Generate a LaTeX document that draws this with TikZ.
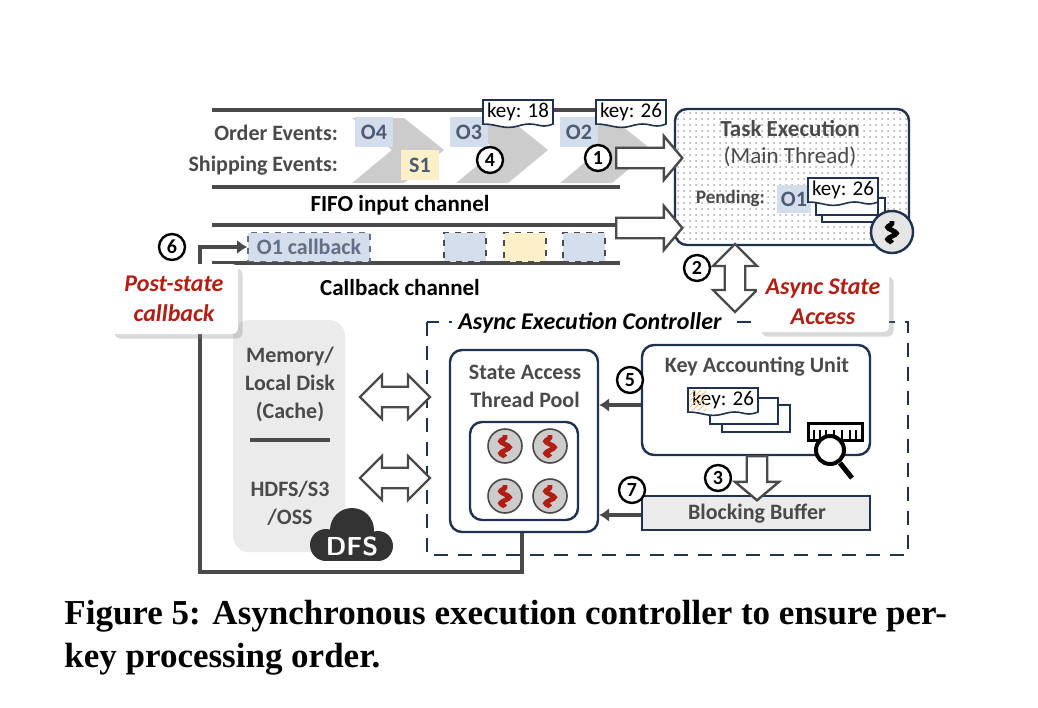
\documentclass[tikz,border=0pt]{standalone}
\usepackage{fontspec}
\setmainfont{Liberation Serif}
\newfontfamily\carlito{Carlito}
\usetikzlibrary{shapes.arrows,decorations.pathmorphing,patterns,calc,shadows,arrows.meta}
\definecolor{navy}{HTML}{1F3250}
\definecolor{ink}{HTML}{4A4A4A}
\definecolor{evblue}{HTML}{D3DDEC}
\definecolor{evyel}{HTML}{FDF0C8}
\definecolor{darkred}{HTML}{B01E14}
\tikzset{
  lbl/.style={font=\carlito\bfseries\fontsize{11}{13}\selectfont, text=ink},
  blk/.style={font=\carlito\bfseries\fontsize{11.5}{13}\selectfont, text=black},
  ev/.style={lbl, fill=evblue, minimum width=19pt, minimum height=15pt, inner sep=0pt, text=navy!80},
  stepno/.style={circle, draw=black, very thick, fill=white, minimum size=13pt, inner sep=0pt,
    font=\carlito\bfseries\fontsize{10}{12}\selectfont},
  cb/.style={draw=navy!70, dashed, thick, minimum width=21pt, minimum height=14.5pt, inner sep=0pt},
  hollow/.style={single arrow, draw=ink, very thick, fill=white, minimum width=22pt,
    single arrow head extend=3pt, single arrow tip angle=100, inner sep=2pt},
  dhollow/.style={double arrow, draw=ink, very thick, fill=white, minimum width=22pt,
    double arrow head extend=3pt, inner sep=2pt},
  box/.style={draw=navy, very thick, rounded corners=6pt, fill=white},
  redt/.style={font=\carlito\bfseries\itshape\fontsize{12}{15}\selectfont, text=darkred, align=center},
  garrow/.style={draw=ink, line width=2pt, -{Latex[length=5pt,width=7pt]}},
}
% tag with wavy bottom
\newcommand{\keytag}[4]{% name, x, y, text
  \draw[navy, thick, fill=white] (#2,#3) -- ++(70,0) -- ++(0,24)
    .. controls ++(-15,6) and ++(20,-6) .. ++(-35,2)
    .. controls ++(-15,4) and ++(15,0) .. ++(-35,-2) -- cycle;
  \node[font=\carlito\fontsize{10.5}{12}\selectfont, inner sep=0pt] (#1) at (#2+35,#3+12) {#4};}
\newcommand{\squig}[3]{% x, y, colour
  \draw[#3, line width=2.4pt, decorate, decoration={snake, amplitude=2.2pt, segment length=6pt}]
    (#1,#2+11) -- (#1,#2-11);}
\begin{document}
\begin{tikzpicture}[x=0.5pt, y=-0.5pt]
\useasboundingbox (0,0) rectangle (1038,707);

% input channel
\foreach \cx in {352,456,560}
  \fill[black!20] (\cx,118) -- ++(52,0) -- ++(40,32) -- ++(-40,33) -- ++(-52,0) -- ++(40,-33) -- cycle;
\draw[ink, line width=2pt] (212,110) -- (620,110);
\draw[ink, line width=2pt] (212,187) -- (620,187);
\draw[ink, line width=2pt] (212,225) -- (620,225);
\draw[ink, line width=2pt] (212,263) -- (620,263);
\node[lbl, anchor=east] (ordlbl) at (345,133) {Order Events:};
\node[lbl, anchor=east] (shiplbl) at (345,166) {Shipping Events:};
\node[ev] (o4) at (374,132) {O4};
\node[ev, fill=evyel] (s1) at (420,165) {S1};
\node[ev] (o3) at (469,132) {O3};
\node[ev] (o2) at (579,132) {O2};
\keytag{k18}{483}{100}{key: 18}
\keytag{k26}{596}{100}{key: 26}
\node[stepno] (n4) at (490,160) {4};
\node[blk] (fifo) at (400,205) {FIFO input channel};
\node[blk] (cbch) at (400,288) {Callback channel};

% callback channel
\node[cb, fill=evblue, minimum width=61pt, lbl, text=navy!70] (o1cb) at (309,247) {O1 callback};
\node[cb, draw=ink, fill=evblue] (cb1) at (465,247) {};
\node[cb, draw=ink, fill=evyel] (cb2) at (525,247) {};
\node[cb, draw=ink, fill=evblue] (cb3) at (584,247) {};

% task execution
\node[box, pattern=dots, pattern color=black!35, minimum width=117pt, minimum height=68pt] (task) at (792,177) {};
\node[font=\carlito\bfseries\fontsize{11.5}{13}\selectfont, text=ink] (tasklbl) at (790,128) {Task Execution};
\node[font=\carlito\fontsize{11.5}{13}\selectfont, text=ink] (mainth) at (790,157) {(Main Thread)};
\node[lbl, font=\carlito\bfseries\fontsize{9.5}{11}\selectfont, anchor=east] (pend) at (772,198) {Pending:};
\node[ev, minimum width=17pt, minimum height=14pt] (o1) at (794,199) {O1};
\draw[navy, thick, fill=white] (822,198) rectangle (885,222);
\draw[navy, thick, fill=white] (816,192) rectangle (878,215);
\keytag{kp}{808}{178}{key: 26}
\node[circle, draw=navy, very thick, fill=black!10, minimum size=21pt] (thr) at (892,232) {};
\squig{892}{232}{black}

\node[hollow, minimum height=33pt] (a1) at (645,158) {};
\node[stepno] (n1) at (598,158) {1};
\node[hollow, minimum height=33pt] (a2) at (645,228) {};

% async state access
\node[dhollow, rotate=90, minimum height=34pt] (a2v) at (735,278) {};
\node[stepno] (n2) at (697,268) {2};

% controller
\draw[navy, very thick, dash pattern=on 7pt off 5pt] (427,322) rectangle (908,555);
\node[font=\carlito\bfseries\itshape\fontsize{12}{14}\selectfont, fill=white] (ctl) at (590,323) {Async Execution Controller};
\node[redt, fill=white, drop shadow={opacity=0.3}, rounded corners=3pt, minimum width=66pt, minimum height=30pt] (asa) at (823,302) {Async State\\Access};

% storage
\node[fill=black!8, rounded corners=8pt, minimum width=56pt, minimum height=116pt] (store) at (289,436) {};
\node[lbl, align=center] (mem) at (290,384) {Memory/\\[1pt]Local Disk\\[1pt](Cache)};
\draw[ink, line width=2pt] (250,440) -- (330,440);
\node[lbl, align=center] (hdfs) at (290,503) {HDFS/S3\\[1pt]/OSS};
\fill[black!80] (326,545) circle (16);
\fill[black!80] (352,530) circle (22);
\fill[black!80] (378,546) circle (15);
\fill[black!80] (326,545) rectangle (378,561);
\node[font=\sffamily\bfseries\fontsize{13}{14}\selectfont, text=white] (dfs) at (352,546) {DFS};

% thread pool
\node[box, minimum width=74pt, minimum height=91pt] (pool) at (524,441) {};
\node[lbl, align=center] (poollbl) at (525,386) {State Access\\[1pt]Thread Pool};
\node[box, minimum width=54pt, minimum height=49pt] (inner) at (524,471) {};
\foreach \px/\py in {505/446,550/446,505/496,550/496}{
  \draw[ink, thick, fill=black!20] (\px,\py) circle (17);
  \squig{\px}{\py}{darkred}}
\node[dhollow, minimum height=35pt] (dm) at (395,397) {};
\node[dhollow, minimum height=35pt] (dh) at (395,478) {};

% key accounting unit
\node[box, minimum width=114pt, minimum height=55pt] (kau) at (756,400) {};
\node[lbl] (kaulbl) at (757,367) {Key Accounting Unit};
\draw[navy, thick, fill=white] (722,405) rectangle (790,432);
\draw[navy, thick, fill=white] (710,398) rectangle (778,424);
\keytag{kk}{688}{388}{key: 26}
\fill[pattern=north east lines, pattern color=orange!50] (690,390) rectangle (706,410);
\draw[black, line width=1.5pt, fill=white] (808,423) rectangle (862,440);
\foreach \bx in {814,820,826,834,842,850,856}
  \draw[black, thick] (\bx,440) -- (\bx,430);
\draw[black, line width=2.5pt] (840,463) -- (852,478);
\draw[black, line width=2pt, fill=white] (830,450) circle (14);

\node[fill=black!8, draw=navy, thick, minimum width=114pt, minimum height=17pt] (buf) at (756,513) {};
\node[lbl] (buflbl) at (757,514) {Blocking Buffer};
\node[hollow, rotate=-90, minimum height=22pt] (a3) at (757,474) {};
\node[stepno] (n3) at (718,478) {3};

\draw[garrow] (kau.west |- 0,405) -- (pool.east |- 0,405);
\node[stepno] (n5) at (630,380) {5};
\draw[garrow] (buf.west |- 0,515) -- (pool.east |- 0,515);
\node[stepno] (n7) at (632,490) {7};

% callback loop
\coordinate (lpA) at (522,572);
\coordinate (lpB) at (200,572);
\draw[ink, line width=2pt, -{Latex[length=5pt,width=7pt]}] (pool.south -| lpA) -- (lpA) -- (lpB) -- (lpB |- o1cb) -- (o1cb.west);
\node[stepno] (n6) at (172,247) {6};
\node[redt, fill=white, drop shadow={opacity=0.3}, rounded corners=3pt, minimum width=64pt, minimum height=35pt] (psc) at (174,299) {Post-state\\callback};

% caption
\node[anchor=north west, align=left, font=\bfseries\fontsize{17.5}{21.5}\selectfont, inner sep=0pt] (cap) at (64,600)
  {Figure 5: Asynchronous execution controller to ensure per-\\key processing order.};
\end{tikzpicture}
\end{document}
